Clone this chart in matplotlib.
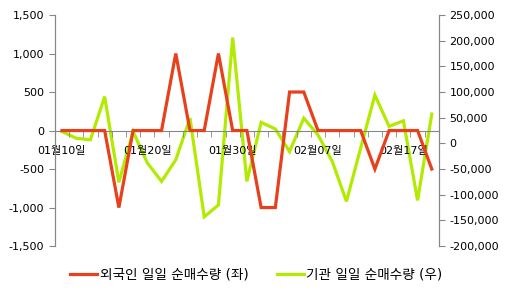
import numpy as np
import matplotlib
matplotlib.use('Agg')
import matplotlib.pyplot as plt
from matplotlib.ticker import FuncFormatter, FixedLocator

plt.rcParams['font.family'] = ['DejaVu Sans', 'Noto Sans CJK KR']
plt.rcParams['font.size'] = 8

dates = ['01월10일', '01월13일', '01월14일', '01월15일', '01월16일', '01월17일',
         '01월20일', '01월21일', '01월22일', '01월23일', '01월28일', '01월29일',
         '01월30일', '01월31일', '02월03일', '02월04일', '02월05일', '02월06일',
         '02월07일', '02월10일', '02월11일', '02월12일', '02월13일', '02월14일',
         '02월17일', '02월18일', '02월19일']
foreign = [0, 0, 0, 0, -1000, 0, 0, 0, 1000, 0, 0, 1000, 0, 0, -1000, -1000,
           500, 500, 0, 0, 0, 0, -500, 0, 0, 0, -500]
inst = [23000, 10000, 7000, 91000, -76000, 23000, -38000, -74000, -32000, 49000,
        -143000, -120000, 206000, -74000, 41000, 28000, -16000, 49000, 16500,
        -35000, -113000, -9000, 94000, 33000, 44000, -111000, 57000]

red = '#E8401C'
green = '#B2EB00'
gray = '#868686'

x = np.arange(len(dates))

fig = plt.figure(figsize=(5.08, 2.94), dpi=100)
ax = fig.add_axes([0.108, 0.163, 0.756, 0.786])
ax2 = ax.twinx()

ax.plot(x, foreign, color=red, lw=2.3, solid_joinstyle='miter', zorder=3)
ax2.plot(x, inst, color=green, lw=2.3, solid_joinstyle='miter', zorder=3)

ax.set_xlim(-0.5, len(dates) - 0.5)
ax.set_ylim(-1500, 1500)
ax2.set_ylim(-200000, 250000)
ax.set_yticks(np.arange(-1500, 1501, 500))
ax2.set_yticks(np.arange(-200000, 250001, 50000))
fmt = FuncFormatter(lambda v, p: f'{int(v):,}')
ax.yaxis.set_major_formatter(fmt)
ax2.yaxis.set_major_formatter(fmt)

ax.set_xticks(x[::6])
ax.set_xticklabels(dates[::6], fontsize=8.5)
ax.xaxis.set_minor_locator(FixedLocator(np.arange(-0.5, len(dates), 1)))
ax.tick_params(axis='x', which='major', length=0, pad=11)
ax.tick_params(axis='x', which='minor', length=4, color=gray, direction='out')
ax.spines['bottom'].set_position(('data', 0))

for a in (ax, ax2):
    a.spines['top'].set_visible(False)
    for s in ('left', 'right', 'bottom'):
        a.spines[s].set_color(gray)
    a.tick_params(axis='y', length=4, color=gray)
ax2.spines['bottom'].set_visible(False)
ax.set_zorder(ax2.get_zorder() + 1)
ax.patch.set_visible(False)

h1, = ax.plot([], [], color=red, lw=2.3)
h2, = ax.plot([], [], color=green, lw=2.3)
fig.legend([h1, h2], ['외국인 일일 순매수량 (좌)', '기관 일일 순매수량 (우)'],
           loc='center', bbox_to_anchor=(0.505, 0.065), ncol=2, frameon=False,
           handlelength=1.95, columnspacing=2.1, handletextpad=0.2, fontsize=9.8)

fig.savefig('out.png', dpi=100)
